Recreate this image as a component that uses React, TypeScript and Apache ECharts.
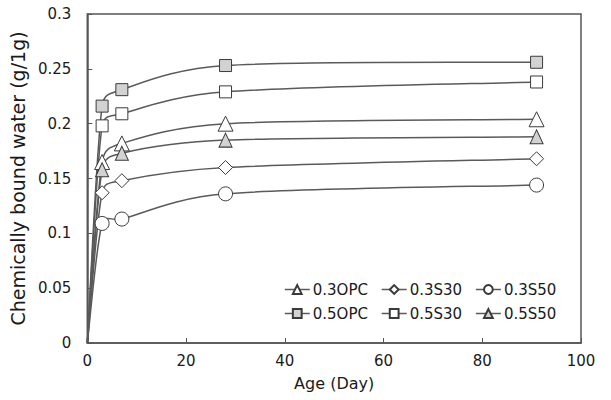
import React, { useEffect, useRef } from "react";
import * as echarts from "echarts";

const days = [0, 3, 7, 28, 91];
const names = ["0.3OPC", "0.3S30", "0.3S50", "0.5OPC", "0.5S30", "0.5S50"];
const opc03 = [0, 0.165, 0.182, 0.2, 0.204];
const s30_03 = [0, 0.137, 0.148, 0.16, 0.168];
const s50_03 = [0, 0.109, 0.113, 0.136, 0.144];
const opc05 = [0, 0.216, 0.231, 0.253, 0.256];
const s30_05 = [0, 0.198, 0.209, 0.229, 0.238];
const s50_05 = [0, 0.158, 0.173, 0.185, 0.188];
const yTicks = [0, 0.05, 0.1, 0.15, 0.2, 0.25, 0.3];
const xTicks = [0, 20, 40, 60, 80, 100];

const FONT = "DejaVu Sans";
const LINE = "#5a5a5a";
const EDGE = "#3a3a3a";
const DOTTED = "#d2d2d2";

// Excel-like smoothed curve through the data, drawn through the axis scales (api.coord)
function curveSeries(vals: number[]) {
  return {
    type: "custom",
    silent: true,
    z: 2,
    clip: false,
    data: days.slice(0, days.length - 1).map((d, i) => [d, vals[i]]),
    renderItem: (params: any, api: any) => {
      const i = params.dataIndex;
      const P = days.map((d, k) => api.coord([d, vals[k]]));
      const n = P.length;
      const p0 = P[i];
      const p1 = P[i + 1];
      const prev = i > 0 ? P[i - 1] : p0;
      const next = i + 2 < n ? P[i + 2] : p1;
      const segLen = Math.hypot(p1[0] - p0[0], p1[1] - p0[1]);
      const clampVec = (v: number[]) => {
        const l = Math.hypot(v[0], v[1]);
        const maxL = 0.5 * segLen;
        if (l > maxL && l > 0) return [(v[0] * maxL) / l, (v[1] * maxL) / l];
        return v;
      };
      const t0 = clampVec([(p1[0] - prev[0]) / 6, (p1[1] - prev[1]) / 6]);
      const t1 = clampVec([(next[0] - p0[0]) / 6, (next[1] - p0[1]) / 6]);
      return {
        type: "bezierCurve",
        shape: {
          x1: p0[0],
          y1: p0[1],
          x2: p1[0],
          y2: p1[1],
          cpx1: p0[0] + t0[0],
          cpy1: p0[1] + t0[1],
          cpx2: p1[0] - t1[0],
          cpy2: p1[1] - t1[1],
        },
        style: { stroke: LINE, lineWidth: 1.5, fill: null },
      };
    },
  };
}

export default function App() {
  const ref = useRef<HTMLDivElement>(null);
  useEffect(() => {
    const chart = echarts.init(ref.current!, null, { renderer: "svg" });
    const mk = (name: string, vals: number[], symbol: string, size: any, fill: any) => ({
      name,
      type: "line",
      z: 3,
      symbol,
      symbolSize: size,
      showAllSymbol: true,
      lineStyle: { color: LINE, width: 1.5, opacity: 0 },
      itemStyle: { color: fill, borderColor: EDGE, borderWidth: 1 },
      emphasis: { disabled: true },
      data: days.map((d, i) =>
        i === 0 ? { value: [d, vals[i]], symbol: "none" } : { value: [d, vals[i]] }
      ),
    });
    const all = [opc03, s30_03, s50_03, opc05, s30_05, s50_05];
    const series: any[] = all.map((v) => curveSeries(v));
    series.push(
      mk(names[0], opc03, "triangle", [15, 15], "#ffffff"),
      mk(names[1], s30_03, "diamond", [14, 14], "#ffffff"),
      mk(names[2], s50_03, "circle", 14, "#ffffff"),
      mk(names[3], opc05, "rect", 12, DOTTED),
      mk(names[4], s30_05, "rect", 12, "#ffffff"),
      mk(names[5], s50_05, "triangle", [13, 14], DOTTED)
    );
    const legendBase = {
      orient: "horizontal",
      itemWidth: 25,
      itemHeight: 11,
      itemGap: 13,
      lineStyle: { color: LINE, width: 1.5, opacity: 1 },
      textStyle: { fontFamily: FONT, fontSize: 15, color: "#1a1a1a", padding: [0, 0, 0, -2] },
      selectedMode: false,
      padding: 0,
    };
    chart.setOption({
      animation: false,
      backgroundColor: "#ffffff",
      grid: {
        left: 87,
        right: 30,
        top: 14,
        bottom: 57,
        show: true,
        borderColor: "#555555",
        borderWidth: 1.5,
        backgroundColor: "transparent",
      },
      legend: [
        { ...legendBase, left: 284, top: 282, data: names.slice(0, 3) },
        { ...legendBase, left: 284, top: 306, data: names.slice(3, 6) },
      ],
      xAxis: {
        type: "value",
        min: xTicks[0],
        max: xTicks[xTicks.length - 1],
        interval: 20,
        name: "Age (Day)",
        nameLocation: "middle",
        nameGap: 32,
        nameTextStyle: { fontFamily: FONT, fontSize: 16, color: "#1a1a1a" },
        axisLine: { show: true, lineStyle: { color: "#555555", width: 1.5 } },
        axisTick: { show: true, inside: true, length: 5, lineStyle: { color: "#555555", width: 1 } },
        axisLabel: { fontFamily: FONT, fontSize: 15, color: "#1a1a1a", margin: 10 },
        splitLine: { show: false },
      },
      yAxis: {
        type: "value",
        min: yTicks[0],
        max: yTicks[yTicks.length - 1],
        interval: 0.05,
        name: "Chemically bound water (g/1g)",
        nameLocation: "middle",
        nameGap: 52,
        nameTextStyle: { fontFamily: FONT, fontSize: 19, color: "#1a1a1a" },
        axisLine: { show: true, lineStyle: { color: "#555555", width: 1.5 } },
        axisTick: { show: true, inside: true, length: 5, lineStyle: { color: "#555555", width: 1 } },
        axisLabel: { fontFamily: FONT, fontSize: 15, color: "#1a1a1a", margin: 16 },
        splitLine: { show: false },
      },
      series,
    });
    return () => chart.dispose();
  }, []);
  return (
    <div
      ref={ref}
      style={{ position: "fixed", left: 0, top: 0, width: 611, height: 400, background: "#fff" }}
    />
  );
}
